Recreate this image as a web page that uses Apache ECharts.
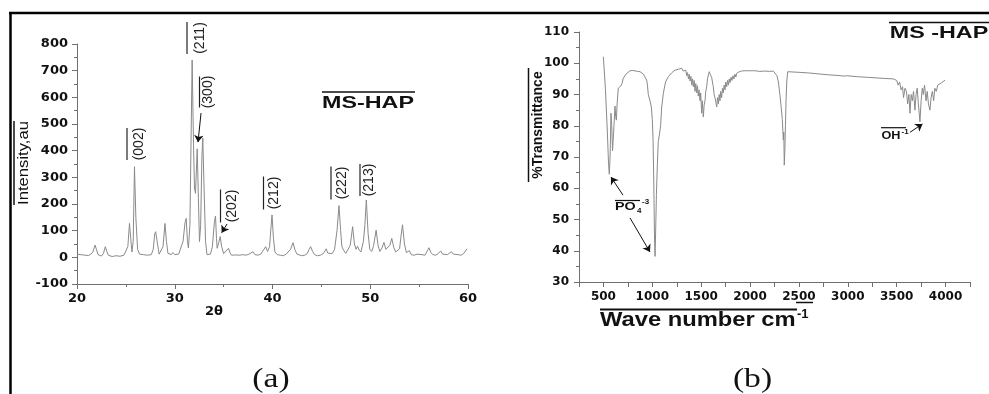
<!DOCTYPE html>
<html>
<head>
<meta charset="utf-8">
<script src="https://cdn.jsdelivr.net/npm/echarts@6/dist/echarts.min.js"></script>
<style>
  html, body { margin: 0; padding: 0; background: #fff; }
  #chart { width: 989px; height: 394px; }
</style>
</head>
<body>
<div id="chart"></div>
<script>
// XRD pattern of MS-HAP: [2θ (deg), intensity (a.u.)]
const xrdPattern = [
  [20.0,12],[20.2,16],[20.4,10],[20.6,13],[20.8,8],[21.0,11],[21.2,7],[21.4,10],[21.6,18],[21.85,46],[22.0,28],[22.15,10],
  [22.3,8],[22.5,5],[22.7,14],[22.9,40],[23.05,22],[23.2,8],[23.4,5],[23.6,3],[23.8,10],[24.0,6],[24.2,12],[24.4,4],
  [24.6,9],[24.8,8],[25.0,14],[25.2,40],[25.37,127],[25.5,70],[25.62,20],[25.75,60],[25.88,340],[26.02,150],[26.2,30],
  [26.4,12],[26.6,8],[26.8,10],[27.0,6],[27.2,8],[27.4,12],[27.6,10],[27.8,30],[27.95,88],[28.05,96],[28.2,60],[28.4,12],
  [28.6,10],[28.8,40],[29.0,127],[29.15,60],[29.3,15],[29.5,8],[29.65,10],[29.8,18],[30.0,10],[30.2,8],[30.4,12],
  [30.6,14],[30.85,60],[31.05,130],[31.17,146],[31.3,60],[31.4,35],[31.55,120],[31.78,740],[31.92,420],[32.02,260],
  [32.12,240],[32.3,407],[32.42,220],[32.53,59],[32.65,120],[32.78,380],[32.87,448],[33.0,260],[33.15,60],[33.3,10],
  [33.45,5],[33.65,12],[33.85,40],[34.05,130],[34.17,155],[34.27,70],[34.34,34],[34.5,55],[34.65,78],[34.8,40],
  [35.0,14],[35.2,10],[35.5,34],[35.65,18],[35.8,8],[36.0,6],[36.2,9],[36.4,5],[36.6,8],[36.8,6],[37.0,10],[37.3,8],
  [37.6,12],[38.0,21],[38.2,10],[38.5,8],[38.8,12],[39.0,18],[39.3,40],[39.5,22],[39.7,40],[39.82,100],[39.95,159],
  [40.1,70],[40.25,20],[40.5,10],[40.8,8],[41.1,6],[41.4,12],[41.6,15],[41.85,30],[42.1,55],[42.3,28],[42.5,12],
  [42.7,8],[43.0,6],[43.3,8],[43.55,14],[43.75,30],[43.9,40],[44.1,22],[44.3,10],[44.6,6],[44.9,8],[45.2,14],
  [45.5,32],[45.65,16],[45.85,12],[46.1,14],[46.35,30],[46.6,100],[46.8,194],[46.97,100],[47.1,40],[47.3,25],
  [47.5,15],[47.7,18],[47.95,45],[48.2,115],[48.38,50],[48.55,30],[48.7,42],[48.85,28],[49.05,20],[49.3,60],
  [49.45,120],[49.6,215],[49.78,90],[49.95,30],[50.15,22],[50.35,45],[50.6,102],[50.8,45],[50.98,22],[51.2,35],
  [51.4,56],[51.6,30],[51.8,26],[52.0,45],[52.2,71],[52.4,38],[52.6,20],[52.8,18],[53.0,32],[53.15,80],[53.3,122],
  [53.5,50],[53.7,18],[53.85,15],[54.0,25],[54.2,10],[54.5,8],[54.8,12],[55.0,6],[55.3,10],[55.6,8],[55.85,25],
  [56.0,36],[56.2,18],[56.4,10],[56.7,8],[56.95,14],[57.2,24],[57.4,12],[57.6,8],[57.9,10],[58.3,21],[58.5,12],
  [58.7,6],[59.0,10],[59.3,8],[59.55,14],[59.75,20],[59.9,32]
];

// FTIR spectrum of MS-HAP: [wave number (cm-1), transmittance (%)]
const ftirSpectrum = [
  [499,102.1],[520,92],[540,78],[552,68],[560,64.5],[568,70],[577,84],[585,80],[593,72],[601,71.5],[608,80],
  [618,86.3],[625,83],[632,81.8],[640,87],[652,92],[665,91.5],[677,92.7],[690,93.5],[703,95.2],[730,96.5],
  [772,97.6],[800,97.7],[850,97.4],[874,97.3],[910,96.5],[942,94.6],[950,93],[959,90],[965,89.5],[976,88],
  [990,86],[1000,82],[1008,75],[1015,62],[1022,45],[1028,38.2],[1034,46],[1042,58],[1052,68],[1061,75],
  [1072,77],[1085,80],[1096,86],[1113,90.4],[1135,94],[1164,95.7],[1200,97],[1232,97.8],[1270,98.1],[1301,98.4],
  [1315,97.5],[1325,98],[1334,97.2],[1342,97.8],[1352,96],[1360,97],[1370,95],[1378,96.5],[1386,94.3],[1395,95.8],
  [1404,93],[1412,95],[1420,92.5],[1428,94.5],[1437,91],[1445,93.5],[1454,90.5],[1462,92.8],[1470,89.5],[1478,91.5],
  [1488,88],[1495,90.5],[1505,84],[1512,88],[1522,82.8],[1530,86.5],[1539,88],[1547,91],[1556,92.5],[1565,95],
  [1575,96.5],[1583,97.3],[1592,96.5],[1600,96.8],[1607,95.5],[1615,94],[1624,92.5],[1632,90],[1641,89],
  [1650,87.5],[1659,86],[1667,89],[1676,87],[1684,90],[1692,88],[1700,91],[1709,89],[1718,92],[1726,90.5],
  [1735,93],[1744,91.5],[1752,94],[1761,92.5],[1770,94.5],[1778,93],[1787,95],[1795,93.8],[1805,95.5],[1815,94.5],
  [1825,96],[1835,95],[1845,96.5],[1855,95.6],[1863,96.8],[1875,96.2],[1885,97.2],[1895,96.7],[1910,97.5],
  [1925,97],[1940,97.6],[1960,97.2],[1980,97.6],[2000,97.4],[2050,97.6],[2100,97.4],[2150,97.5],[2200,97.4],
  [2238,97.5],[2255,97.2],[2275,96],[2290,94],[2305,90],[2318,86],[2330,82],[2340,75.5],[2345,78],[2350,67.4],
  [2356,72],[2362,80],[2368,88],[2375,94],[2385,97.3],[2400,97.4],[2500,97.1],[2600,96.9],[2700,96.6],[2800,96.3],
  [2900,96.1],[2960,95.9],[2975,95.6],[2988,96],[3000,95.8],[3100,95.7],[3200,95.5],[3300,95.3],[3400,95.1],
  [3466,95],[3485,94.4],[3500,94.5],[3515,93],[3530,94],[3545,91.5],[3560,92.5],[3570,89],[3585,92],[3600,91],
  [3612,87],[3625,90],[3636,84],[3648,90],[3660,88],[3672,91],[3687,85],[3698,90],[3710,92],[3722,87],
  [3738,81.3],[3750,88],[3762,92],[3772,90],[3785,93],[3800,88],[3812,91],[3825,87],[3840,85],[3852,89],
  [3865,91],[3878,88],[3890,92],[3905,91],[3920,93],[3940,92.5],[3960,93.8],[3980,94],[3995,94.6]
];

// Miller indices of the indexed reflections
const xrdPeakLabels = ['(002)', '(211)', '(300)', '(202)', '(212)', '(222)', '(213)'];

// Arrows in data coordinates: [from, to]
const xrdArrows = [
  [[32.69, 541], [32.38, 432]],
  [[35.35, 125], [34.80, 92]]
];
const ftirArrows = [
  [[700, 57.8], [577, 63.6]],
  [[772, 50.5], [976, 39.6]],
  [[3636, 77.9], [3764, 80.6]]
];

// Axis ranges
const xrdX = { min: 20, max: 60, interval: 10 };
const xrdY = { min: -100, max: 800, interval: 100 };
const ftirX = { min: 250, max: 4250, interval: 250 };
const ftirY = { min: 30, max: 110, interval: 10 };

const AXIS_COLOR = '#6f6f6f';
const LABEL_FONT = 'DejaVu Sans';
const TEXT_FONT = 'Liberation Sans';

function valueAxis(range, gridIndex, fontSize, margin, extra) {
  return Object.assign({
    type: 'value',
    gridIndex: gridIndex,
    min: range.min, max: range.max, interval: range.interval,
    axisLine: { show: true, onZero: false, lineStyle: { color: AXIS_COLOR, width: 1 } },
    axisTick: { show: true, length: 5, lineStyle: { color: AXIS_COLOR, width: 1 } },
    minorTick: { show: true, splitNumber: 2, length: 3, lineStyle: { color: AXIS_COLOR, width: 1 } },
    splitLine: { show: false },
    minorSplitLine: { show: false },
    axisLabel: {
      show: true, margin: margin, color: '#111', fontFamily: LABEL_FONT, fontWeight: 'bold',
      fontSize: fontSize, showMinLabel: true, showMaxLabel: true, hideOverlap: false
    }
  }, extra || {});
}

function arrowLines(arrows) {
  return {
    silent: true,
    animation: false,
    symbol: ['none', 'arrow'],
    symbolSize: 7,
    label: { show: false },
    emphasis: { disabled: true },
    lineStyle: { color: '#111', width: 1, type: 'solid' },
    data: arrows.map(a => [{ coord: a[0] }, { coord: a[1] }])
  };
}

// Text helpers for the annotation layer
function text(str, x, y, opt) {
  opt = opt || {};
  return {
    type: 'text', x: x, y: y,
    rotation: opt.rotation || 0,
    scaleX: opt.scaleX || 1, scaleY: opt.scaleY || 1,
    silent: true,
    style: {
      text: str,
      fontFamily: opt.family || TEXT_FONT,
      fontSize: opt.size || 12,
      fontWeight: opt.weight || 'normal',
      fill: opt.color || '#111',
      align: opt.align || 'center', textAlign: opt.align || 'center',
      verticalAlign: 'middle', textVerticalAlign: 'middle'
    }
  };
}
function rule(x1, y1, x2, y2, w, color) {
  return {
    type: 'line', silent: true,
    shape: { x1: x1, y1: y1, x2: x2, y2: y2 },
    style: { stroke: color || '#111', lineWidth: w || 1 }
  };
}

// Layout of the rotated Miller-index labels: centre, length, overline x
const peakLabelLayout = [
  { cx: 139, cy: 144, len: 32, ol: 127 },
  { cx: 200, cy: 38,  len: 32, ol: 187 },
  { cx: 208, cy: 92,  len: 31, ol: 199.5 },
  { cx: 232, cy: 206, len: 33, ol: 220.5 },
  { cx: 274, cy: 193, len: 33, ol: 263.5 },
  { cx: 342, cy: 183, len: 33, ol: 331 },
  { cx: 369, cy: 180, len: 32, ol: 360 }
];

const graphics = [];
// frame
graphics.push(rule(9, 13, 989, 13, 2.5, '#000'));
graphics.push(rule(10.5, 12, 10.5, 394, 2.5, '#000'));

// (a) panel texts
peakLabelLayout.forEach((p, i) => {
  graphics.push(text(xrdPeakLabels[i], p.cx, p.cy, { rotation: Math.PI / 2, size: 14, color: '#222' }));
  graphics.push(rule(p.ol, p.cy - p.len / 2, p.ol, p.cy + p.len / 2, 1.2, '#222'));
});
graphics.push(text('MS-HAP', 368, 103, { size: 17, weight: 'bold', scaleX: 1.37 }));
graphics.push(rule(322, 92, 415, 92, 1.5));
graphics.push(text('Intensity,au', 24, 163, { rotation: Math.PI / 2, size: 14, scaleX: 1.19 }));
graphics.push(rule(14, 121, 14, 205, 1.5));
graphics.push(text('2θ', 214, 312, { family: LABEL_FONT, size: 13, weight: 'bold' }));
graphics.push(text('(a)', 271, 380, { family: 'Liberation Serif', size: 28, scaleX: 1.2 }));

// (b) panel texts
graphics.push(text('MS -HAP', 939, 33, { size: 17, weight: 'bold', scaleX: 1.37 }));
graphics.push(rule(889, 22.5, 989, 22.5, 1.5));
graphics.push(text('%Transmittance', 538.5, 125, { rotation: Math.PI / 2, size: 14, weight: 'bold' }));
graphics.push(rule(528.5, 68, 528.5, 182, 1.5));
graphics.push(text('Wave number cm', 600, 320, { size: 21, weight: 'bold', align: 'left', scaleX: 1.13 }));
graphics.push(rule(600, 309.5, 797, 309.5, 2.2));
graphics.push(text('-1', 797, 314, { size: 13, weight: 'bold', align: 'left' }));
graphics.push(rule(796, 302.5, 813, 302.5, 1.5));
graphics.push(text('(b)', 752.5, 380, { family: 'Liberation Serif', size: 28, scaleX: 1.2 }));

graphics.push(text('PO', 615, 207, { size: 11, weight: 'bold', align: 'left', scaleX: 1.3 }));
graphics.push(text('4', 637, 211, { size: 8, weight: 'bold', align: 'left' }));
graphics.push(text('-3', 642, 202, { size: 8, weight: 'bold', align: 'left' }));
graphics.push(rule(615, 200.5, 640, 200.5, 1.2));

graphics.push(text('OH', 881.5, 136, { size: 11.5, weight: 'bold', align: 'left', scaleX: 1.1 }));
graphics.push(text('-1', 901.5, 132, { size: 8, weight: 'bold', align: 'left' }));
graphics.push(rule(881, 127.7, 906, 127.7, 1.2));

const chart = echarts.init(document.getElementById('chart'), null, { renderer: 'canvas' });
chart.setOption({
  animation: false,
  backgroundColor: '#fff',
  textStyle: { fontFamily: TEXT_FONT },
  grid: [
    { left: 77, top: 44, width: 391, height: 240, containLabel: false, outerBoundsMode: 'none' },
    { left: 579, top: 32, width: 391, height: 250, containLabel: false, outerBoundsMode: 'none' }
  ],
  xAxis: [
    valueAxis(xrdX, 0, 13, 8),
    valueAxis(ftirX, 1, 12, 9, {
      axisLabel: {
        show: true, margin: 9, color: '#111', fontFamily: LABEL_FONT, fontWeight: 'bold', fontSize: 12,
        showMinLabel: true, showMaxLabel: true, hideOverlap: false,
        formatter: v => (v % 500 === 0 ? String(v) : '')
      },
      minorTick: { show: false }
    })
  ],
  yAxis: [
    valueAxis(xrdY, 0, 13, 9),
    valueAxis(ftirY, 1, 12, 10)
  ],
  series: [
    {
      type: 'line', xAxisIndex: 0, yAxisIndex: 0,
      data: xrdPattern, showSymbol: false, symbol: 'none', smooth: false,
      lineStyle: { color: '#8a8a8a', width: 1 },
      emphasis: { disabled: true },
      markLine: arrowLines(xrdArrows)
    },
    {
      type: 'line', xAxisIndex: 1, yAxisIndex: 1,
      data: ftirSpectrum, showSymbol: false, symbol: 'none', smooth: false,
      lineStyle: { color: '#8a8a8a', width: 1 },
      emphasis: { disabled: true },
      markLine: arrowLines(ftirArrows)
    }
  ],
  graphic: { elements: graphics }
});
</script>
</body>
</html>
